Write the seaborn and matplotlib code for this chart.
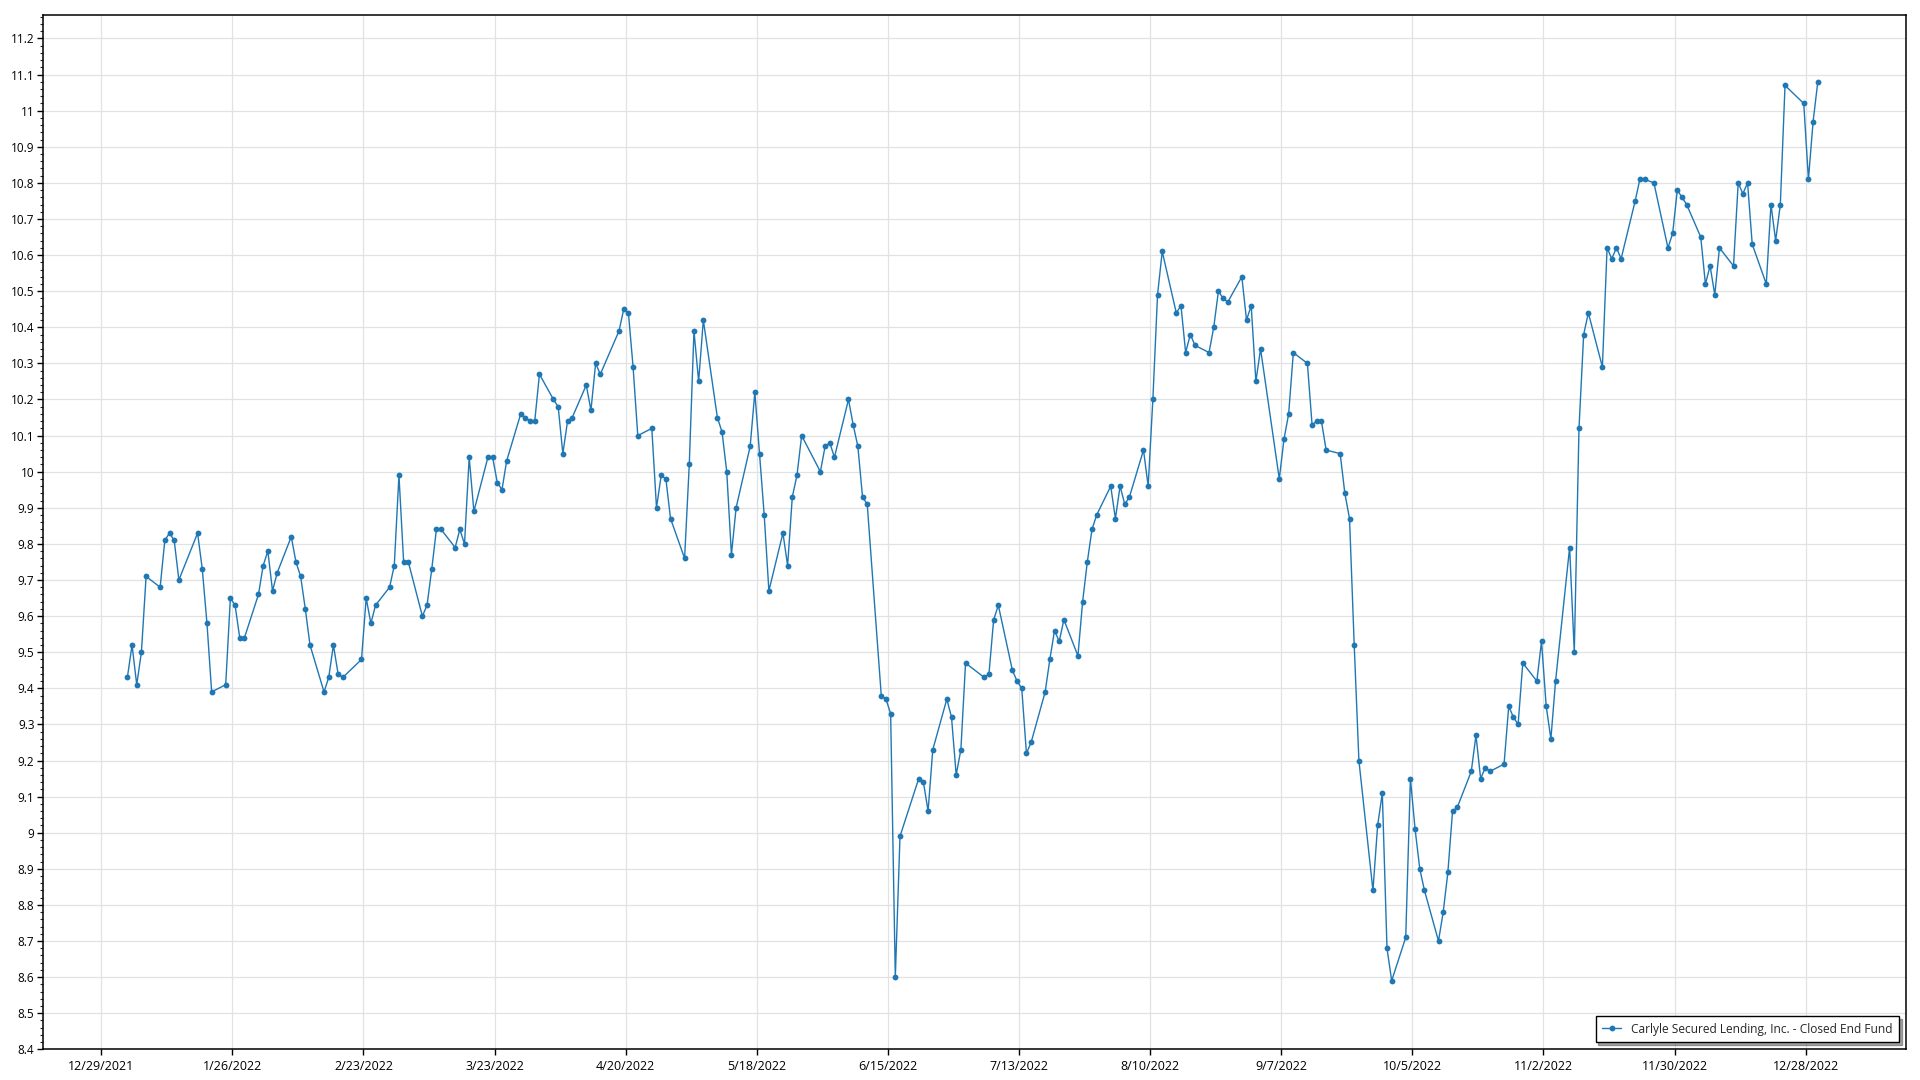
import pandas as pd
import matplotlib
matplotlib.use("Agg")
import matplotlib.pyplot as plt
import matplotlib.ticker as mticker
import matplotlib.dates as mdates
import seaborn as sns

# daily closing prices, 2022 trading days, month by month
jan = [9.43, 9.52, 9.41, 9.50, 9.71, 9.68, 9.81, 9.83, 9.81, 9.70, 9.83, 9.73, 9.58, 9.39,
       9.41, 9.65, 9.63, 9.54, 9.54, 9.66]
feb = [9.74, 9.78, 9.67, 9.72, 9.82, 9.75, 9.71, 9.62, 9.52, 9.39, 9.43, 9.52, 9.44, 9.43,
       9.48, 9.65, 9.58, 9.63, 9.68]
mar = [9.74, 9.99, 9.75, 9.75, 9.60, 9.63, 9.73, 9.84, 9.84, 9.79, 9.84, 9.80, 10.04, 9.89,
       10.04, 10.04, 9.97, 9.95, 10.03, 10.16, 10.15, 10.14, 10.14]
apr = [10.27, 10.20, 10.18, 10.05, 10.14, 10.15, 10.24, 10.17, 10.30, 10.27, 10.39, 10.45,
       10.44, 10.29, 10.10, 10.12, 9.90, 9.99, 9.98, 9.87]
may = [9.76, 10.02, 10.39, 10.25, 10.42, 10.15, 10.11, 10.00, 9.77, 9.90, 10.07, 10.22, 10.05,
       9.88, 9.67, 9.83, 9.74, 9.93, 9.99, 10.10, 10.00]
jun = [10.07, 10.08, 10.04, 10.20, 10.13, 10.07, 9.93, 9.91, 9.38, 9.37, 9.33, 8.60, 8.99,
       9.15, 9.14, 9.06, 9.23, 9.37, 9.32, 9.16, 9.23]
jul = [9.47, 9.43, 9.44, 9.59, 9.63, 9.45, 9.42, 9.40, 9.22, 9.25, 9.39, 9.48, 9.56, 9.53,
       9.59, 9.49, 9.64, 9.75, 9.84, 9.88]
aug = [9.96, 9.87, 9.96, 9.91, 9.93, 10.06, 9.96, 10.20, 10.49, 10.61, 10.44, 10.46, 10.33,
       10.38, 10.35, 10.33, 10.40, 10.50, 10.48, 10.47, 10.54, 10.42, 10.46]
sep = [10.25, 10.34, 9.98, 10.09, 10.16, 10.33, 10.30, 10.13, 10.14, 10.14, 10.06, 10.05,
       9.94, 9.87, 9.52, 9.20, 8.84, 9.02, 9.11, 8.68, 8.59]
oct_ = [8.71, 9.15, 9.01, 8.90, 8.84, 8.70, 8.78, 8.89, 9.06, 9.07, 9.17, 9.27, 9.15, 9.18,
        9.17, 9.19, 9.35, 9.32, 9.30, 9.47, 9.42]
nov = [9.53, 9.35, 9.26, 9.42, 9.79, 9.50, 10.12, 10.38, 10.44, 10.29, 10.62, 10.59, 10.62,
       10.59, 10.75, 10.81, 10.81, 10.80, 10.62, 10.66, 10.78]
dec = [10.76, 10.74, 10.65, 10.52, 10.57, 10.49, 10.62, 10.57, 10.80, 10.77, 10.80, 10.63,
       10.52, 10.74, 10.64, 10.74, 11.07, 11.02, 10.81, 10.97, 11.08]

holidays = ["2022-01-17", "2022-02-21", "2022-04-15", "2022-05-30", "2022-06-20",
            "2022-07-04", "2022-09-05", "2022-11-24", "2022-12-26"]
tick_dates = pd.date_range("2021-12-29", periods=14, freq="28D")
series_name = "Carlyle Secured Lending, Inc. - Closed End Fund"

prices = jan + feb + mar + apr + may + jun + jul + aug + sep + oct_ + nov + dec
days = pd.bdate_range("2022-01-03", "2022-12-30", freq="C", holidays=holidays)
df = pd.DataFrame({"date": days + pd.Timedelta(hours=14), "price": prices})

sns.set_theme(style="white")
plt.rcParams["font.family"] = ["Open Sans", "DejaVu Sans"]

fig = plt.figure(figsize=(19.2, 10.8), dpi=100)
ax = fig.add_axes([0.0223, 0.0284, 0.9704, 0.9577])

sns.lineplot(data=df, x="date", y="price", ax=ax, color="#1f77b4", linewidth=1.0,
             marker="o", markersize=4.2, markeredgewidth=0, label=series_name)

ax.set_xlim(pd.Timestamp("2021-12-16 12:40"), pd.Timestamp("2023-01-18 10:00"))
ax.set_ylim(8.4, 11.265)

ax.xaxis.set_major_locator(mticker.FixedLocator(mdates.date2num(tick_dates)))
ax.set_xticklabels([f"{d.month}/{d.day}/{d.year}" for d in tick_dates])
ax.yaxis.set_major_locator(mticker.MultipleLocator(0.1))
ax.yaxis.set_minor_locator(mticker.AutoMinorLocator(5))
ax.yaxis.set_major_formatter(mticker.FuncFormatter(lambda v, p: f"{v:g}" if v < 11.25 else ""))

ax.tick_params(axis="both", which="major", direction="out", length=4, width=1,
               labelsize=8.5, colors="black", pad=2)
ax.tick_params(axis="x", which="major", labelsize=9, bottom=True, pad=4)
ax.tick_params(axis="y", which="minor", direction="out", length=2, width=0.8, left=True)
ax.tick_params(axis="y", which="major", left=True)

ax.grid(True, which="major", color="#e2e2e2", linewidth=0.9)
for s in ax.spines.values():
    s.set_color("black")
    s.set_linewidth(1.1)

ax.set_xlabel("")
ax.set_ylabel("")

leg = ax.legend(loc="lower right", fontsize=8.6, frameon=True, fancybox=False, shadow=True,
                borderaxespad=0.6, handlelength=1.6, borderpad=0.55)
leg.get_frame().set_edgecolor("black")
leg.get_frame().set_linewidth(1.0)

fig.savefig("out.png", dpi=100, facecolor="white")
